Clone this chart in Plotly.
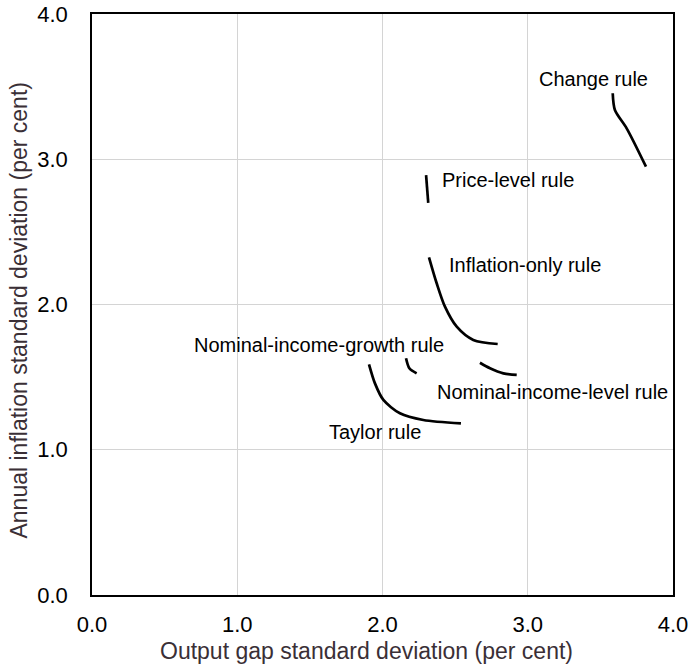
import plotly.graph_objects as go

# Data (x = output gap s.d., y = inflation s.d.)
change_x = [3.585, 3.600, 3.681, 3.814]
change_y = [3.454, 3.339, 3.213, 2.949]

price_x = [2.300, 2.315]
price_y = [2.890, 2.700]

inflation_x = [2.320, 2.373, 2.430, 2.511, 2.625, 2.793]
inflation_y = [2.325, 2.146, 1.985, 1.847, 1.756, 1.728]

nig_x = [2.162, 2.185, 2.235]
nig_y = [1.630, 1.561, 1.526]

nil_x = [2.671, 2.740, 2.832, 2.924]
nil_y = [1.599, 1.561, 1.526, 1.515]

taylor_x = [1.907, 1.948, 2.006, 2.120, 2.281, 2.540]
taylor_y = [1.588, 1.457, 1.343, 1.251, 1.205, 1.182]

labels = ["Change rule", "Price-level rule", "Inflation-only rule",
          "Nominal-income-growth rule", "Nominal-income-level rule", "Taylor rule"]
label_x = [3.453, 2.862, 2.981, 1.563, 3.167, 1.948]
label_y = [3.552, 2.857, 2.272, 1.719, 1.400, 1.124]

tick_vals = [0, 1, 2, 3, 4]
tick_text = ["0.0", "1.0", "2.0", "3.0", "4.0"]

x_title = "Output gap standard deviation (per cent)"
y_title = "Annual inflation standard deviation (per cent)"

FONT = "Liberation Sans, Arial, Helvetica, sans-serif"
TITLE_COLOR = "#3a2f36"

fig = go.Figure()
series = [(change_x, change_y), (price_x, price_y), (inflation_x, inflation_y),
          (nig_x, nig_y), (nil_x, nil_y), (taylor_x, taylor_y)]
for xs, ys in series:
    fig.add_trace(go.Scatter(x=xs, y=ys, mode="lines",
                             line=dict(color="black", width=2.7, shape="spline", smoothing=0.8),
                             showlegend=False, hoverinfo="skip"))

for t, x, y in zip(labels, label_x, label_y):
    fig.add_annotation(x=x, y=y, text=t, showarrow=False,
                       font=dict(family=FONT, size=20, color="black"),
                       xanchor="center", yanchor="middle")

# Axis titles placed as paper-referenced text
fig.add_annotation(xref="paper", yref="paper", x=0.473, y=-0.0964, text=x_title,
                   showarrow=False, xanchor="center", yanchor="middle",
                   font=dict(family=FONT, size=23, color=TITLE_COLOR))
fig.add_annotation(xref="paper", yref="paper", x=-0.1248, y=0.4905, text=y_title,
                   showarrow=False, xanchor="center", yanchor="middle", textangle=-90,
                   font=dict(family=FONT, size=23, color=TITLE_COLOR))

axis_common = dict(range=[0, 4], tickvals=tick_vals, ticktext=tick_text,
                   showgrid=True, gridcolor="#d4d4d4", gridwidth=1.2,
                   showline=True, linecolor="black", linewidth=1.5, mirror=True,
                   ticks="", zeroline=False, automargin=False,
                   tickfont=dict(family=FONT, size=22, color="black"))

fig.update_layout(
    width=694, height=668,
    margin=dict(l=92, r=21, t=14, b=73),
    plot_bgcolor="white", paper_bgcolor="white",
    xaxis=dict(**axis_common, ticklabelstandoff=9),
    yaxis=dict(**axis_common, ticklabelstandoff=18),
)

fig.write_html("out.html")
